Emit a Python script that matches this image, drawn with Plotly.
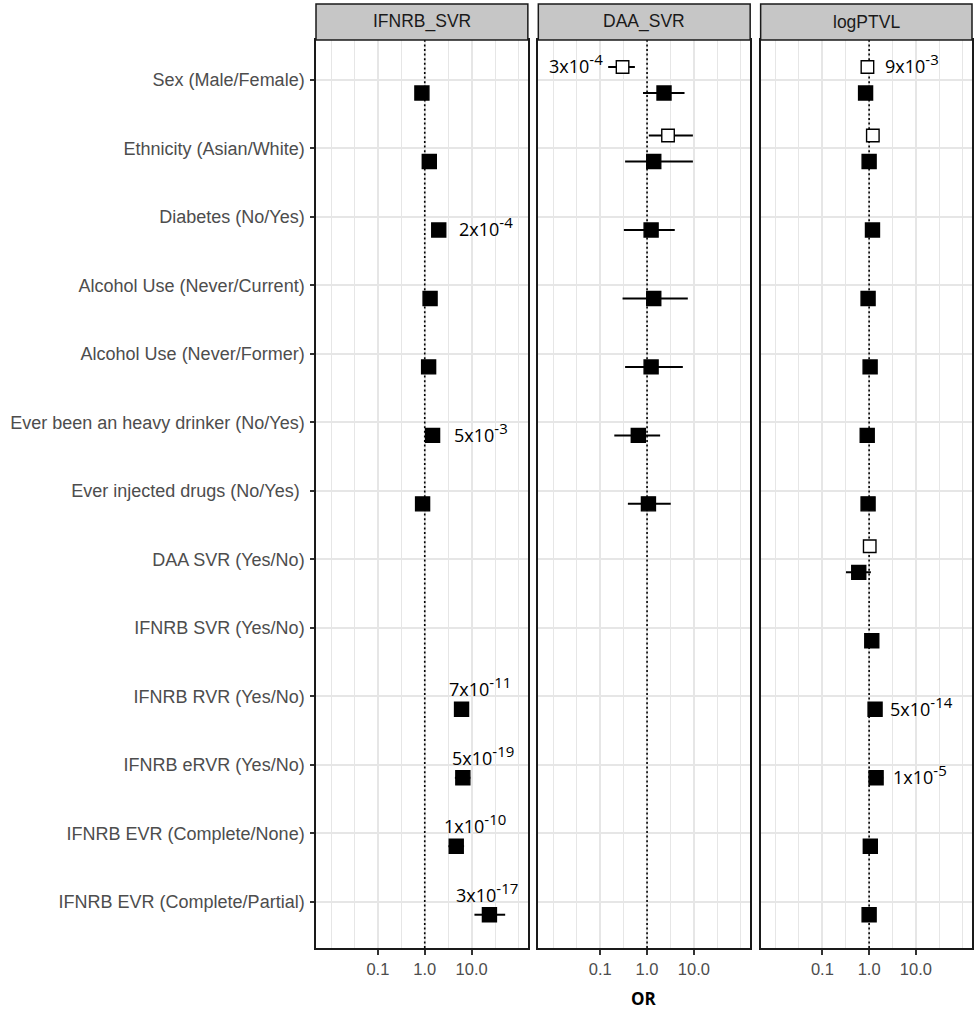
import math
import plotly.graph_objects as go

# ---------------- data ----------------
categories = [
    "Sex (Male/Female)",
    "Ethnicity (Asian/White)",
    "Diabetes (No/Yes)",
    "Alcohol Use (Never/Current)",
    "Alcohol Use (Never/Former)",
    "Ever been an heavy drinker (No/Yes)",
    "Ever injected drugs (No/Yes) ",
    "DAA SVR (Yes/No)",
    "IFNRB SVR (Yes/No)",
    "IFNRB RVR (Yes/No)",
    "IFNRB eRVR (Yes/No)",
    "IFNRB EVR (Complete/None)",
    "IFNRB EVR (Complete/Partial)",
]
panels = ["IFNRB_SVR", "DAA_SVR", "logPTVL"]
x_tick_values = [0.1, 1, 10]
x_tick_labels = ["0.1", "1.0", "10.0"]
x_title = "OR"

# filled squares: estimate and 95% CI per panel
ifnrb_or = [0.87, 1.25, 1.99, 1.30, 1.21, 1.47, 0.90, None, None, 6.1, 6.5, 4.7, 24.0]
ifnrb_lo = [0.80, 1.15, 1.80, 1.19, 1.11, 1.35, 0.82, None, None, 5.3, 4.4, 3.2, 11.5]
ifnrb_hi = [0.95, 1.36, 2.20, 1.42, 1.32, 1.60, 0.99, None, None, 7.0, 9.4, 6.9, 52.0]

daa_or = [2.30, 1.39, 1.22, 1.39, 1.22, 0.65, 1.07, None, None, None, None, None, None]
daa_lo = [0.82, 0.34, 0.32, 0.30, 0.34, 0.20, 0.39, None, None, None, None, None, None]
daa_hi = [6.30, 9.50, 3.90, 7.40, 5.80, 1.90, 3.20, None, None, None, None, None, None]

ptvl_or = [0.84, 1.00, 1.18, 0.95, 1.05, 0.91, 0.95, 0.60, 1.14, 1.34, 1.41, 1.06, 1.00]
ptvl_lo = [0.78, 0.93, 1.10, 0.88, 0.98, 0.85, 0.88, 0.32, 1.06, 1.25, 0.98, 0.99, 0.93]
ptvl_hi = [0.90, 1.07, 1.26, 1.02, 1.12, 0.97, 1.02, 1.09, 1.22, 1.44, 2.00, 1.13, 1.07]

# open squares: second estimate per panel
ifnrb_or2 = [None] * 13
ifnrb_lo2 = [None] * 13
ifnrb_hi2 = [None] * 13

daa_or2 = [0.30, 2.80, None, None, None, None, None, None, None, None, None, None, None]
daa_lo2 = [0.148, 1.09, None, None, None, None, None, None, None, None, None, None, None]
daa_hi2 = [0.55, 9.50, None, None, None, None, None, None, None, None, None, None, None]

ptvl_or2 = [0.92, 1.20, None, None, None, None, None, 1.03, None, None, None, None, None]
ptvl_lo2 = [0.86, 1.12, None, None, None, None, None, 0.96, None, None, None, None, None]
ptvl_hi2 = [0.98, 1.28, None, None, None, None, None, 1.10, None, None, None, None, None]

# p-value labels: (panel, row, group, mantissa, exponent)
p_panel = [0, 0, 0, 0, 0, 0, 1, 2, 2, 2]
p_row = [2, 5, 9, 10, 11, 12, 0, 0, 9, 10]
p_group = ["filled", "filled", "filled", "filled", "filled", "filled", "open", "open", "filled", "filled"]
p_mant = ["2", "5", "7", "5", "1", "3", "3", "9", "5", "1"]
p_exp = ["-4", "-3", "-11", "-19", "-10", "-17", "-4", "-3", "-14", "-5"]

# label placement (style): side, xshift px
p_side = ["right", "right", "above", "above", "above", "above", "left", "right", "right", "right"]
p_xshift = [19, 20, -14, -12, -13, -34, -19, 17, 14, 16]

# ---------------- layout constants ----------------
W, H = 975, 1011
ML, MR, MT, MB = 316, 1, 40, 63
PW = W - ML - MR
PH = H - MT - MB
panel_px = [(316, 528.5), (539, 751.5), (762, 974)]
domains = [[(a - ML) / PW, (b - ML) / PW] for a, b in panel_px]
x_range = [-2.32, 2.2]
y_range = [13.676, 0.416]
dodge = 0.19

grid_col = "#e6e6e6"
txt_col = "#4d4d4d"
axis_font = "Liberation Sans, Arial, sans-serif"
label_font = "Open Sans, sans-serif"

fig = go.Figure()

panel_data = [
    (ifnrb_or, ifnrb_lo, ifnrb_hi, ifnrb_or2, ifnrb_lo2, ifnrb_hi2),
    (daa_or, daa_lo, daa_hi, daa_or2, daa_lo2, daa_hi2),
    (ptvl_or, ptvl_lo, ptvl_hi, ptvl_or2, ptvl_lo2, ptvl_hi2),
]

rows = list(range(1, len(categories) + 1))


def axname(i, kind):
    return kind if i == 0 else f"{kind}{i + 1}"


for i, (o1, l1, h1, o2, l2, h2) in enumerate(panel_data):
    xa, ya = axname(i, "x"), axname(i, "y")
    # dotted reference line at OR = 1
    fig.add_trace(go.Scatter(
        x=[1, 1], y=[y_range[0], y_range[1]], mode="lines",
        line=dict(color="black", width=1.6, dash="2px,2.6px"),
        xaxis=xa, yaxis=ya, hoverinfo="skip", showlegend=False))
    for est, lo, hi, off, fill in [(o2, l2, h2, -dodge, "white"), (o1, l1, h1, dodge, "black")]:
        xs, ys, ep, em = [], [], [], []
        for r, e, a, b in zip(rows, est, lo, hi):
            if e is None:
                continue
            xs.append(e)
            ys.append(r + off)
            ep.append(b - e)
            em.append(e - a)
        if not xs:
            continue
        fig.add_trace(go.Scatter(
            x=xs, y=ys, mode="markers",
            marker=dict(symbol="square", size=14 if fill == "black" else 12.5,
                        color=fill, line=dict(color="black", width=1.4)),
            error_x=dict(type="data", symmetric=False, array=ep, arrayminus=em,
                         color="black", thickness=2, width=0),
            xaxis=xa, yaxis=ya, showlegend=False))

# p-value annotations
for k in range(len(p_panel)):
    pi, r, g = p_panel[k], p_row[k], p_group[k]
    src = panel_data[pi]
    val = src[0][r] if g == "filled" else src[3][r]
    yv = rows[r] + (dodge if g == "filled" else -dodge)
    txt = f"{p_mant[k]}x10<sup><span style='font-size:15px'>{p_exp[k]}</span></sup>"
    side = p_side[k]
    ann = dict(x=math.log10(val), y=yv, xref=axname(pi, "x"), yref=axname(pi, "y"),
               text=txt, showarrow=False, borderpad=0,
               font=dict(family=label_font, size=18, color="black"),
               xshift=p_xshift[k])
    if side == "right":
        ann.update(xanchor="left", yanchor="middle", yshift=3)
    elif side == "left":
        ann.update(xanchor="right", yanchor="middle", yshift=3)
    else:
        ann.update(xanchor="left", yanchor="bottom", yshift=7)
    fig.add_annotation(**ann)

# strips
strip_h = 36 / PH
for i, name in enumerate(panels):
    xa = axname(i, "x")
    fig.add_shape(type="rect", xref=f"{xa} domain", yref="paper",
                  x0=0, x1=1, y0=1, y1=1 + strip_h,
                  fillcolor="#c6c6c6", line=dict(color="#1a1a1a", width=1.5), layer="above")
    fig.add_annotation(xref=f"{xa} domain", yref="paper", x=0.5, y=1 + strip_h / 2,
                       text=name, showarrow=False, xanchor="center", yanchor="middle",
                       font=dict(family=axis_font, size=17.5, color="#1a1a1a"))

# x title
fig.add_annotation(xref="paper", yref="paper", x=(645 - ML) / PW, y=-(998 - (MT + PH)) / PH,
                   text=f"<b>{x_title}</b>", showarrow=False, xanchor="center", yanchor="middle",
                   borderpad=0, font=dict(family=label_font, size=17, color="black"))

minor_vals = [10 ** (v / 2) for v in range(-4, 5) if v % 2 != 0] + [0.01, 100]

layout = dict(
    width=W, height=H,
    margin=dict(l=ML, r=MR, t=MT, b=MB, pad=0),
    plot_bgcolor="white", paper_bgcolor="white",
    showlegend=False,
)
for i in range(3):
    xa, ya = axname(i, "x"), axname(i, "y")
    xkey = "xaxis" if i == 0 else f"xaxis{i + 1}"
    ykey = "yaxis" if i == 0 else f"yaxis{i + 1}"
    layout[xkey] = dict(
        domain=domains[i], anchor=ya, type="log", range=x_range,
        tickmode="array", tickvals=x_tick_values, ticktext=x_tick_labels,
        ticks="outside", ticklen=5, tickwidth=2, tickcolor="#333333",
        tickfont=dict(family=axis_font, size=16.5, color=txt_col),
        showgrid=True, gridcolor=grid_col, gridwidth=2,
        minor=dict(tickmode="array", tickvals=minor_vals, showgrid=True,
                   gridcolor=grid_col, gridwidth=1, ticks=""),
        showline=True, mirror=True, linecolor="#1a1a1a", linewidth=1.5,
        zeroline=False, fixedrange=True,
    )
    yax = dict(
        domain=[0, 1], anchor=xa, range=y_range,
        tickmode="array", tickvals=rows,
        showticklabels=(i == 0),
        ticks="outside" if i == 0 else "", ticklen=4, tickwidth=2, tickcolor="#333333",
        tickfont=dict(family=axis_font, size=18, color=txt_col),
        showgrid=True, gridcolor=grid_col, gridwidth=2,
        showline=True, mirror=True, linecolor="#1a1a1a", linewidth=1.5,
        zeroline=False, fixedrange=True,
    )
    if i == 0:
        yax["ticktext"] = categories
        yax["ticklabelstandoff"] = 2
    layout[ykey] = yax
fig.update_layout(**layout)

fig.write_html("out.html", config={"displayModeBar": False},
               post_script="document.body.style.margin='0px';")
